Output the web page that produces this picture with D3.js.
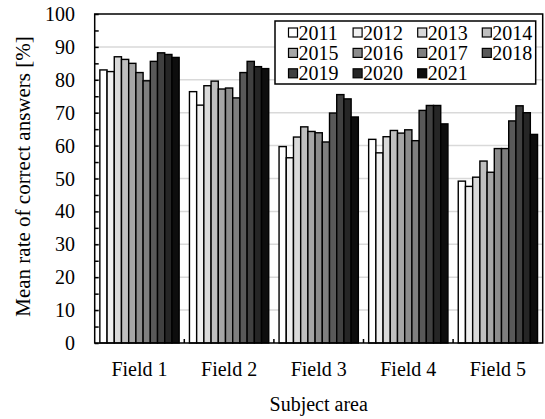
<!DOCTYPE html>
<html>
<head>
<meta charset="utf-8">
<script src="https://cdn.jsdelivr.net/npm/d3@7"></script>
<style>
  html, body { margin: 0; padding: 0; background: #fff; }
  svg { display: block; }
  text { font-family: "Liberation Serif", "Times New Roman", serif; fill: #000; }
</style>
</head>
<body>
<svg id="chart" width="545" height="419"></svg>
<script>
// ---- data ----
const fields = ["Field 1", "Field 2", "Field 3", "Field 4", "Field 5"];
const years = ["2011", "2012", "2013", "2014", "2015", "2016", "2017", "2018", "2019", "2020", "2021"];
const v2011 = [83.0, 76.4, 59.7, 61.9, 49.2];
const v2012 = [82.5, 72.3, 56.3, 57.8, 47.6];
const v2013 = [87.0, 78.2, 62.6, 62.7, 50.4];
const v2014 = [86.2, 79.6, 65.7, 64.6, 55.3];
const v2015 = [85.0, 77.2, 64.3, 63.8, 51.9];
const v2016 = [82.2, 77.5, 63.9, 64.8, 59.1];
const v2017 = [79.7, 74.5, 61.1, 61.5, 59.1];
const v2018 = [85.6, 82.2, 69.9, 70.7, 67.5];
const v2019 = [88.2, 85.6, 75.5, 72.2, 72.1];
const v2020 = [87.7, 84.0, 74.2, 72.2, 70.0];
const v2021 = [86.8, 83.4, 68.7, 66.6, 63.4];
const yTicks = [0, 10, 20, 30, 40, 50, 60, 70, 80, 90, 100];
const yMinorTicks = [5, 15, 25, 35, 45, 55, 65, 75, 85, 95];
const fills = ["#ffffff", "#f0f0f0", "#d9d9d9", "#bfbfbf", "#a6a6a6", "#8c8c8c", "#7f7f7f", "#595959", "#404040", "#262626", "#0d0d0d"];
const yLabel = "Mean rate of correct answers [%]";
const xLabel = "Subject area";

const seriesValues = [v2011, v2012, v2013, v2014, v2015, v2016, v2017, v2018, v2019, v2020, v2021];

// ---- layout ----
const svg = d3.select("#chart");
const L = 94.7, R = 542.7, T = 14, B = 343;

const x0 = d3.scaleBand().domain(fields).range([L, R]).padding(0);
const x1 = d3.scaleBand().domain(years).range([0, x0.bandwidth()]).paddingInner(0).paddingOuter(0.715);
const y = d3.scaleLinear().domain([0, 100]).range([B, T]);
const color = d3.scaleOrdinal().domain(years).range(fills);

// gridlines
svg.append("g").selectAll("line").data(yTicks.filter(d => d > 0 && d < 100)).join("line")
  .attr("x1", L).attr("x2", R)
  .attr("y1", d => y(d)).attr("y2", d => y(d))
  .attr("stroke", "#d9d9d9").attr("stroke-width", 1.5);

// bars
const rows = [];
fields.forEach((f, i) => years.forEach((yr, j) => rows.push({ field: f, year: yr, value: seriesValues[j][i] })));
svg.append("g").selectAll("rect").data(rows).join("rect")
  .attr("x", d => x0(d.field) + x1(d.year))
  .attr("y", d => y(d.value))
  .attr("width", x1.bandwidth())
  .attr("height", d => y(0) - y(d.value))
  .attr("fill", d => color(d.year))
  .attr("stroke", "#000").attr("stroke-width", 1.4);

// frame
svg.append("rect").attr("x", L).attr("y", T).attr("width", R - L).attr("height", B - T)
  .attr("fill", "none").attr("stroke", "#000").attr("stroke-width", 1.5);

// y axis (ticks inward)
const yAxis = d3.axisRight(y).tickValues(yTicks.concat(yMinorTicks)).tickSize(4).tickFormat("");
const gy = svg.append("g").attr("transform", `translate(${L},0)`).call(yAxis);
gy.select(".domain").remove();
gy.selectAll("line").attr("stroke", "#000").attr("stroke-width", 1.5);

// y tick labels
svg.append("g").selectAll("text").data(yTicks).join("text")
  .attr("x", 75).attr("y", d => y(d)).attr("dy", "0.35em")
  .attr("text-anchor", "end").attr("font-size", 20)
  .text(d => d);

// x axis ticks at category boundaries (inward)
const boundaries = fields.slice(1).map(f => x0(f));
svg.append("g").selectAll("line").data(boundaries).join("line")
  .attr("x1", d => d).attr("x2", d => d)
  .attr("y1", B).attr("y2", B - 4)
  .attr("stroke", "#000").attr("stroke-width", 1.5);

// x tick labels
const gx = svg.append("g").attr("transform", `translate(0,${B})`)
  .call(d3.axisBottom(x0).tickSize(0).tickPadding(0));
gx.attr("font-family", null);
gx.select(".domain").remove();
gx.selectAll("text").attr("font-size", 20).attr("dy", null).attr("y", 0)
  .attr("transform", "translate(0,32.5)")
  .style("font-family", '"Liberation Serif", "Times New Roman", serif');

// axis titles
svg.append("text").attr("x", (L + R) / 2).attr("y", 411).attr("text-anchor", "middle")
  .attr("font-size", 20).text(xLabel);
svg.append("text").attr("transform", `translate(30,${(T + B) / 2 - 2}) rotate(-90)`)
  .attr("text-anchor", "middle").attr("font-size", 21).text(yLabel);

// legend
const lg = svg.append("g");
lg.append("rect").attr("x", 275).attr("y", 21).attr("width", 260.7).attr("height", 63)
  .attr("fill", "#fff").attr("stroke", "#000").attr("stroke-width", 1.5);
const items = lg.selectAll("g.item").data(years).join("g").attr("class", "item")
  .attr("transform", (d, i) => `translate(${288.5 + (i % 4) * 64.6},${32.5 + Math.floor(i / 4) * 20.4})`);
items.append("rect").attr("x", 0).attr("y", -4.5).attr("width", 9).attr("height", 9)
  .attr("fill", d => color(d)).attr("stroke", "#000").attr("stroke-width", 1.2);
items.append("text").attr("x", 10).attr("y", 0).attr("dy", "0.35em")
  .attr("font-size", 20).text(d => d);
</script>
</body>
</html>
